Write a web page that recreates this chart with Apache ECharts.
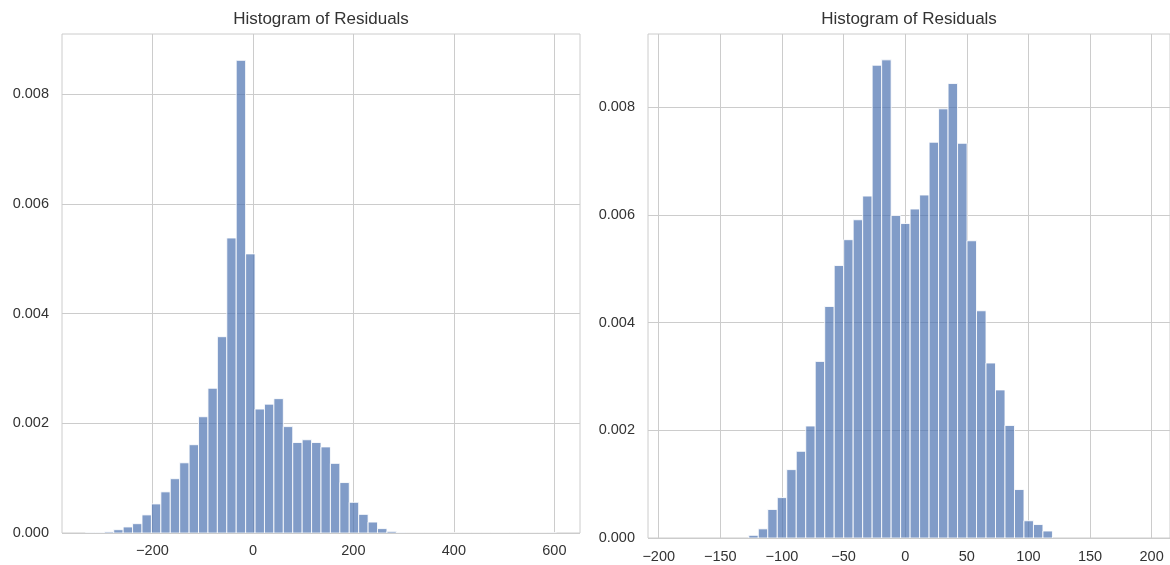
<!DOCTYPE html>
<html>
<head>
<meta charset="utf-8">
<script src="https://cdn.jsdelivr.net/npm/echarts@6/dist/echarts.min.js"></script>
<style>
html,body{margin:0;padding:0;background:#fff;}
#chart{width:1170px;height:565px;}
</style>
</head>
<body>
<div id="chart"></div>
<script>
// ---- Data ----
const chartTitle = 'Histogram of Residuals';

// Left histogram: 50 bins
const leftBinStart = -333.25;
const leftBinWidth = 18.75;
const leftDensity = [
  0.00001, 0.00001, 0.00002, 0.00006, 0.00011, 0.00017, 0.00033, 0.00053, 0.00075, 0.00099,
  0.00128, 0.00161, 0.00212, 0.00264, 0.00358, 0.00538, 0.00862, 0.00509, 0.00226, 0.00235,
  0.00245, 0.00194, 0.00165, 0.00170, 0.00165, 0.00157, 0.00127, 0.00092, 0.00056, 0.00034,
  0.00020, 0.00008, 0.00003, 0.00001, 0, 0, 0, 0, 0, 0,
  0, 0, 0, 0, 0, 0, 0, 0, 0, 0.000003
];
const leftXTicks = [-200, 0, 200, 400, 600];
const leftYTicks = [0, 0.002, 0.004, 0.006, 0.008];

// Right histogram: 32 bins
const rightBinStart = -126.9;
const rightBinWidth = 7.7;
const rightDensity = [
  0.00005, 0.00017, 0.00053, 0.00075, 0.00127, 0.00161, 0.00208, 0.00328, 0.00430, 0.00506,
  0.00554, 0.00591, 0.00635, 0.00878, 0.00888, 0.00599, 0.00584, 0.00611, 0.00637, 0.00735,
  0.00797, 0.00844, 0.00733, 0.00552, 0.00422, 0.00325, 0.00275, 0.00209, 0.00090, 0.00032,
  0.00025, 0.00013
];
const rightXTicks = [-200, -150, -100, -50, 0, 50, 100, 150, 200];
const rightYTicks = [0, 0.002, 0.004, 0.006, 0.008];

// ---- Build ----
function bins(start, width, dens) {
  return dens.map((d, i) => [start + i * width, start + (i + 1) * width, d]);
}
const FONT = "'Liberation Sans', Arial, sans-serif";
const TXT = '#333333';
const GRIDC = '#cccccc';

function renderBar(params, api) {
  const p0 = api.coord([api.value(0), api.value(2)]);
  const p1 = api.coord([api.value(1), 0]);
  return {
    type: 'rect',
    shape: { x: p0[0], y: p0[1], width: p1[0] - p0[0], height: p1[1] - p0[1] },
    style: { fill: 'rgba(76,114,176,0.7)', stroke: 'rgba(255,255,255,0.85)', lineWidth: 1 }
  };
}
const minus = v => String(v).replace('-', '\u2212');

function xAxis(idx, min, max, ticks, margin) {
  return {
    type: 'value', gridIndex: idx, min: min, max: max,
    axisLine: { show: false }, axisTick: { show: false, customValues: ticks },
    axisLabel: { customValues: ticks, color: TXT, fontSize: 14.5, fontFamily: FONT, margin: margin, formatter: minus },
    splitLine: { show: true, lineStyle: { color: GRIDC, width: 1 } }
  };
}
function yAxis(idx, max, ticks) {
  return {
    type: 'value', gridIndex: idx, min: 0, max: max,
    axisLine: { show: false }, axisTick: { show: false, customValues: ticks },
    axisLabel: { customValues: ticks, color: TXT, fontSize: 14.5, fontFamily: FONT, margin: 13,
      formatter: v => v.toFixed(3) },
    splitLine: { show: true, lineStyle: { color: GRIDC, width: 1 } }
  };
}

const chart = echarts.init(document.getElementById('chart'), null, { renderer: 'canvas' });
chart.setOption({
  animation: false,
  backgroundColor: '#ffffff',
  title: [
    { text: chartTitle, left: 321, top: 11, textAlign: 'center', padding: 0,
      textStyle: { color: TXT, fontSize: 17, fontWeight: 'normal', fontFamily: FONT } },
    { text: chartTitle, left: 909, top: 11, textAlign: 'center', padding: 0,
      textStyle: { color: TXT, fontSize: 17, fontWeight: 'normal', fontFamily: FONT } }
  ],
  grid: [
    { left: 62, top: 34, width: 518, height: 499, show: true, borderColor: GRIDC, borderWidth: 1, backgroundColor: 'transparent' },
    { left: 648, top: 34, width: 523, height: 504, show: true, borderColor: GRIDC, borderWidth: 1, backgroundColor: 'transparent' }
  ],
  xAxis: [
    xAxis(0, -380, 651, leftXTicks, 10),
    xAxis(1, -208.7, 214.9, rightXTicks, 11)
  ],
  yAxis: [
    yAxis(0, 0.0091, leftYTicks),
    yAxis(1, 0.00936, rightYTicks)
  ],
  series: [
    { type: 'custom', xAxisIndex: 0, yAxisIndex: 0, renderItem: renderBar, clip: true,
      encode: { x: [0, 1], y: 2 }, data: bins(leftBinStart, leftBinWidth, leftDensity) },
    { type: 'custom', xAxisIndex: 1, yAxisIndex: 1, renderItem: renderBar, clip: true,
      encode: { x: [0, 1], y: 2 }, data: bins(rightBinStart, rightBinWidth, rightDensity) }
  ]
});
</script>
</body>
</html>
